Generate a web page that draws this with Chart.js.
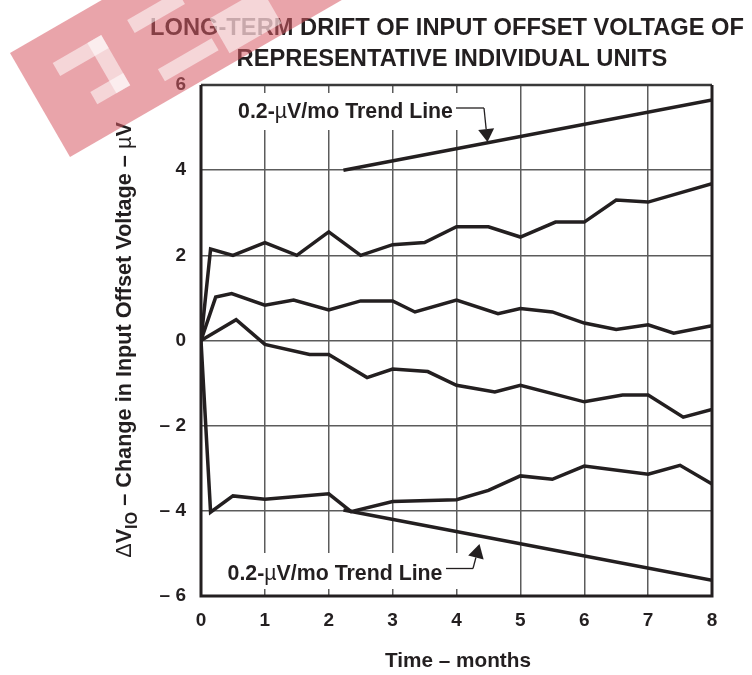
<!DOCTYPE html>
<html><head><meta charset="utf-8">
<script src="https://cdn.jsdelivr.net/npm/chart.js@4.4.1/dist/chart.umd.min.js"></script>
<style>html,body{margin:0;padding:0;background:#fff}#wrap{width:752px;height:675px;position:relative}</style>
</head><body><div id="wrap"><canvas id="c" width="752" height="675"></canvas></div>
<script>
// ---- data (months, µV) ----
const unitA_t = [0,0.15,0.5,1,1.5,2,2.5,3,3.5,4,4.5,5,5.55,6,6.5,7,8];
const unitA_v = [0,2.15,2.0,2.3,2.0,2.55,2.0,2.25,2.3,2.67,2.67,2.43,2.78,2.78,3.3,3.25,3.68];
const unitB_t = [0,0.23,0.48,1,1.45,2,2.5,3,3.35,4,4.65,5,5.5,6,6.5,7,7.4,8];
const unitB_v = [0,1.02,1.1,0.83,0.95,0.72,0.93,0.93,0.67,0.95,0.63,0.75,0.67,0.41,0.26,0.37,0.17,0.35];
const unitC_t = [0,0.55,1,1.7,2,2.6,3,3.55,4,4.6,5,6,6.6,7,7.55,8];
const unitC_v = [0,0.49,-0.09,-0.33,-0.33,-0.87,-0.67,-0.73,-1.05,-1.21,-1.05,-1.44,-1.28,-1.28,-1.8,-1.62];
const unitD_t = [0,0.15,0.5,1,2,2.35,3,4,4.5,5,5.5,6,7,7.5,8];
const unitD_v = [0,-4.03,-3.65,-3.73,-3.6,-4.02,-3.78,-3.74,-3.52,-3.18,-3.26,-2.95,-3.14,-2.93,-3.37];
const trendUp_t = [2.23,8];
const trendUp_v = [4.0,5.65];
const trendDown_t = [2.23,8];
const trendDown_v = [-3.98,-5.63];
const xTickValues = [0,1,2,3,4,5,6,7,8];
const xTickLabels = ['0','1','2','3','4','5','6','7','8'];
const yTickValues = [-6,-4,-2,0,2,4,6];
const yTickLabels = ['\u2013 6','\u2013 4','\u2013 2','0','2','4','6'];
const titleLines = ['LONG-TERM DRIFT OF INPUT OFFSET VOLTAGE OF','REPRESENTATIVE INDIVIDUAL UNITS'];
const xTitle = 'Time \u2013 months';
const annotText = '0.2-\u00b5V/mo Trend Line';

const FAM = '"Liberation Sans", Arial, Helvetica, sans-serif';
const INK = '#231f20';

function pts(t, v){ return t.map((x,i)=>({x:x, y:v[i]})); }
function ds(t, v){ return {data:pts(t,v), showLine:true, borderColor:INK, borderWidth:3.5, pointRadius:0, tension:0, fill:false}; }

function segWidth(ctx, segs, size){
  let w=0;
  for(const s of segs){ ctx.font = (s.b?'bold ':'normal ')+(size*(s.sub?0.75:1))+'px '+FAM; w+=ctx.measureText(s.t).width; }
  return w;
}
function fitSize(ctx, segs, target){ return 100*target/segWidth(ctx, segs, 100); }
function drawSegs(ctx, segs, cx, cy, size){
  const total = segWidth(ctx, segs, size);
  let x = cx - total/2;
  const base = cy + size*0.358;
  ctx.textBaseline='alphabetic'; ctx.textAlign='left'; ctx.fillStyle=INK;
  for(const s of segs){
    ctx.font = (s.b?'bold ':'normal ')+(size*(s.sub?0.75:1))+'px '+FAM;
    ctx.fillText(s.t, x, base + (s.sub? size*0.28 : 0));
    x += ctx.measureText(s.t).width;
  }
}
function splitMu(text){
  const i = text.indexOf('\u00b5');
  return [{t:text.slice(0,i),b:1},{t:'\u00b5',b:0},{t:text.slice(i+1),b:1}];
}
function arrow(ctx, x0,y0,x1,y1, len, half){
  const dx=x1-x0, dy=y1-y0, L=Math.hypot(dx,dy), ux=dx/L, uy=dy/L;
  const bx=x1-ux*len, by=y1-uy*len;
  ctx.beginPath(); ctx.moveTo(x0,y0); ctx.lineTo(bx,by); ctx.stroke();
  ctx.beginPath(); ctx.moveTo(x1,y1); ctx.lineTo(bx-uy*half, by+ux*half); ctx.lineTo(bx+uy*half, by-ux*half); ctx.closePath(); ctx.fill();
}

const deco = {
  id:'deco',
  beforeDatasetsDraw(chart){
    const ctx=chart.ctx; ctx.save(); ctx.fillStyle='#fff';
    ctx.fillRect(232,93,230,37);
    ctx.fillRect(220,553,242,36);
    ctx.restore();
  },
  afterDatasetsDraw(chart){
    const ctx=chart.ctx, a=chart.chartArea;
    ctx.save();
    // frame
    ctx.strokeStyle='#3a3a3a'; ctx.lineWidth=2.5;
    ctx.beginPath(); ctx.moveTo(a.left,a.top); ctx.lineTo(a.right,a.top); ctx.stroke();
    ctx.strokeStyle=INK; ctx.lineWidth=3;
    ctx.beginPath(); ctx.moveTo(a.left,a.top); ctx.lineTo(a.left,a.bottom); ctx.lineTo(a.right,a.bottom); ctx.lineTo(a.right,a.top); ctx.stroke();
    // annotations
    const seg = splitMu(annotText);
    const s1 = fitSize(ctx, seg, 215);
    drawSegs(ctx, seg, 345.5, 110, s1);
    drawSegs(ctx, seg, 335, 572, s1);
    ctx.strokeStyle=INK; ctx.fillStyle=INK; ctx.lineWidth=1.3;
    ctx.beginPath(); ctx.moveTo(456,108); ctx.lineTo(484,108); ctx.stroke();
    arrow(ctx, 484,108, 487.5,142, 13, 8);
    ctx.beginPath(); ctx.moveTo(446,568.5); ctx.lineTo(473,568.5); ctx.stroke();
    arrow(ctx, 473,568.5, 479.5,544, 14, 8);
    // titles
    const t1=[{t:titleLines[0],b:1}], t2=[{t:titleLines[1],b:1}];
    const ts = fitSize(ctx, t1, 594);
    drawSegs(ctx, t1, 447, 27, ts);
    drawSegs(ctx, t2, 452, 58, ts);
    const xt=[{t:xTitle,b:1}];
    drawSegs(ctx, xt, 458, 660, fitSize(ctx, xt, 146));
    // y title
    const yt=[{t:'\u0394',b:0},{t:'V',b:1},{t:'IO',b:1,sub:1},{t:' \u2013 Change in Input Offset Voltage \u2013 ',b:1},{t:'\u00b5',b:0},{t:'V',b:1}];
    ctx.translate(123,340); ctx.rotate(-Math.PI/2);
    drawSegs(ctx, yt, 0, 0, fitSize(ctx, yt, 436));
    ctx.restore();
  },
  afterDraw(chart){
    // faint watermark band in the top-left corner
    const ctx=chart.ctx; ctx.save();
    ctx.translate(10,53); ctx.rotate(-Math.PI/6);
    ctx.fillStyle='rgba(215,90,100,0.55)';
    ctx.fillRect(0,0,420,120);
    ctx.fillStyle='rgba(255,255,255,0.55)';
    ctx.fillRect(32,30,56,15); ctx.fillRect(72,30,16,58); ctx.fillRect(50,74,38,14);
    ctx.fillRect(118,30,58,15); ctx.fillRect(120,88,62,14);
    ctx.fillRect(190,70,60,40);
    ctx.restore();
  }
};

new Chart(document.getElementById('c'), {
  type:'scatter',
  data:{datasets:[ds(unitA_t,unitA_v),ds(unitB_t,unitB_v),ds(unitC_t,unitC_v),ds(unitD_t,unitD_v),ds(trendUp_t,trendUp_v),ds(trendDown_t,trendDown_v)]},
  options:{
    responsive:false, animation:false, devicePixelRatio:1,
    layout:{padding:{top:85,right:40,left:0,bottom:0}},
    plugins:{legend:{display:false},tooltip:{enabled:false}},
    scales:{
      x:{type:'linear',min:0,max:8,
        afterFit(s){s.height=79;},
        afterBuildTicks(s){s.ticks=xTickValues.map(v=>({value:v}));},
        ticks:{callback:(v)=>xTickLabels[xTickValues.indexOf(v)],font:{family:FAM,size:19,weight:'bold'},color:INK,padding:13,maxRotation:0,autoSkip:false},
        grid:{color:'#5c5c5c',lineWidth:1.5,drawTicks:false},border:{display:false}},
      y:{type:'linear',min:-6,max:6,
        afterFit(s){s.width=201;},
        afterBuildTicks(s){s.ticks=yTickValues.map(v=>({value:v}));},
        ticks:{callback:(v)=>yTickLabels[yTickValues.indexOf(v)],font:{family:FAM,size:19,weight:'bold'},color:INK,padding:15,autoSkip:false},
        grid:{color:'#5c5c5c',lineWidth:1.5,drawTicks:false},border:{display:false}}
    }
  },
  plugins:[deco]
});
</script></body></html>
